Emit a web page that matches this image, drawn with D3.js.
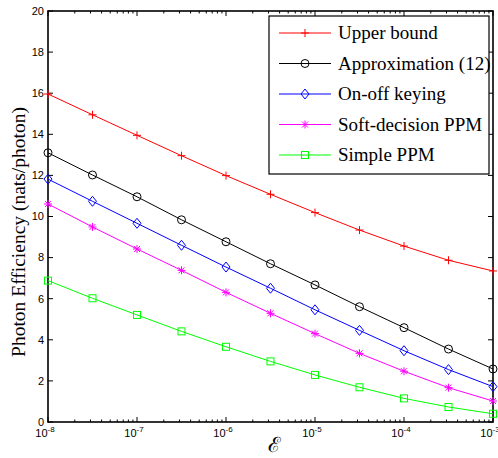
<!DOCTYPE html>
<html><head><meta charset="utf-8">
<script src="https://cdn.jsdelivr.net/npm/d3@7"></script>
<style>body{margin:0;background:#fff}svg{display:block}</style>
</head><body>
<svg id="c" width="498" height="458"></svg>
<script>
const energy = [1e-8, 3.162e-8, 1e-7, 3.162e-7, 1e-6, 3.162e-6, 1e-5, 3.162e-5, 1e-4, 3.162e-4, 1e-3];
const upperBound = [15.96, 14.95, 13.95, 12.96, 11.99, 11.08, 10.19, 9.34, 8.56, 7.87, 7.35];
const approximation = [13.10, 12.02, 10.96, 9.84, 8.77, 7.70, 6.67, 5.61, 4.59, 3.55, 2.58];
const onOffKeying = [11.82, 10.74, 9.67, 8.60, 7.54, 6.51, 5.46, 4.46, 3.47, 2.55, 1.72];
const softPPM = [10.61, 9.49, 8.42, 7.38, 6.31, 5.29, 4.30, 3.34, 2.47, 1.67, 1.02];
const simplePPM = [6.88, 6.02, 5.21, 4.41, 3.66, 2.95, 2.29, 1.69, 1.15, 0.73, 0.40];
const seriesNames = ["Upper bound", "Approximation (12)", "On-off keying", "Soft-decision PPM", "Simple PPM"];
const yTicks = [0, 2, 4, 6, 8, 10, 12, 14, 16, 18, 20];
const xTickExps = [-8, -7, -6, -5, -4, -3];

const series = [
  {name: seriesNames[0], values: upperBound, color: "#ff0000", marker: "plus"},
  {name: seriesNames[1], values: approximation, color: "#000000", marker: "circle"},
  {name: seriesNames[2], values: onOffKeying, color: "#0000ff", marker: "diamond"},
  {name: seriesNames[3], values: softPPM, color: "#ff00ff", marker: "star"},
  {name: seriesNames[4], values: simplePPM, color: "#00ff00", marker: "square"}
];

const svg = d3.select("#c");
const L = 48, R = 493, T = 11, B = 422;
const x = d3.scaleLog().domain([1e-8, 1e-3]).range([L, R]);
const y = d3.scaleLinear().domain([0, 20]).range([B, T]);

// minor & major ticks (inward, on all sides)
const g = svg.append("g").attr("stroke", "#000").attr("stroke-width", 1);
const minor = [];
for (let e = -8; e < -3; e++) for (let k = 2; k <= 9; k++) minor.push(k * Math.pow(10, e));
minor.forEach(v => {
  g.append("line").attr("x1", x(v)).attr("x2", x(v)).attr("y1", B).attr("y2", B - 2.5);
  g.append("line").attr("x1", x(v)).attr("x2", x(v)).attr("y1", T).attr("y2", T + 2.5);
});
xTickExps.forEach(e => {
  const v = Math.pow(10, e);
  g.append("line").attr("x1", x(v)).attr("x2", x(v)).attr("y1", B).attr("y2", B - 5);
  g.append("line").attr("x1", x(v)).attr("x2", x(v)).attr("y1", T).attr("y2", T + 5);
});
yTicks.forEach(v => {
  g.append("line").attr("x1", L).attr("x2", L + 5).attr("y1", y(v)).attr("y2", y(v));
  g.append("line").attr("x1", R).attr("x2", R - 5).attr("y1", y(v)).attr("y2", y(v));
});

// frame
svg.append("rect").attr("x", L).attr("y", T).attr("width", R - L).attr("height", B - T)
  .attr("fill", "none").attr("stroke", "#000").attr("stroke-width", 1.6);

// tick labels
const lbl = svg.append("g").attr("font-family", "Liberation Sans, Arial, sans-serif").attr("font-size", 11).attr("fill", "#000");
yTicks.forEach(v => {
  lbl.append("text").attr("x", L - 4).attr("y", y(v)).attr("dy", "0.35em").attr("text-anchor", "end").text(v);
});
xTickExps.forEach(e => {
  const t = lbl.append("text").attr("x", x(Math.pow(10, e)) - 3).attr("y", 437).attr("text-anchor", "middle");
  t.append("tspan").text("10");
  t.append("tspan").attr("font-size", 8).attr("dy", -5).text("-" + (-e));
});

// axis titles
svg.append("text").attr("transform", "translate(25,232) rotate(-90)").attr("text-anchor", "middle")
  .attr("font-family", "Liberation Serif, Times New Roman, serif").attr("font-size", 19.5).text("Photon Efficiency (nats/photon)");
svg.append("text").attr("x", 274).attr("y", 452).attr("text-anchor", "middle")
  .attr("font-family", "DejaVu Serif, serif").attr("font-size", 21).text("ℰ");

// markers
function drawMarker(sel, type, cx, cy, color) {
  if (type === "plus") {
    sel.append("path").attr("d", `M${cx-4},${cy}H${cx+4}M${cx},${cy-4}V${cy+4}`).attr("stroke", color).attr("fill", "none");
  } else if (type === "circle") {
    sel.append("circle").attr("cx", cx).attr("cy", cy).attr("r", 4).attr("stroke", color).attr("fill", "none");
  } else if (type === "diamond") {
    sel.append("path").attr("d", `M${cx},${cy-5}L${cx+4},${cy}L${cx},${cy+5}L${cx-4},${cy}Z`).attr("stroke", color).attr("fill", "none");
  } else if (type === "star") {
    sel.append("path").attr("d", `M${cx-4},${cy}H${cx+4}M${cx},${cy-4}V${cy+4}M${cx-3},${cy-3}L${cx+3},${cy+3}M${cx-3},${cy+3}L${cx+3},${cy-3}`).attr("stroke", color).attr("fill", "none");
  } else if (type === "square") {
    sel.append("rect").attr("x", cx - 3.5).attr("y", cy - 3.5).attr("width", 7).attr("height", 7).attr("stroke", color).attr("fill", "none");
  }
}

const line = d3.line().x((d, i) => x(energy[i])).y(d => y(d));
series.forEach(s => {
  svg.append("path").attr("d", line(s.values)).attr("fill", "none").attr("stroke", s.color).attr("stroke-width", 1);
  const mg = svg.append("g").attr("stroke-width", 1);
  s.values.forEach((v, i) => drawMarker(mg, s.marker, x(energy[i]), y(v), s.color));
});

// legend
const lg = svg.append("g");
lg.append("rect").attr("x", 269).attr("y", 16).attr("width", 220).attr("height", 158)
  .attr("fill", "#fff").attr("stroke", "#000").attr("stroke-width", 1.2);
series.forEach((s, i) => {
  const ly = 33 + i * 30.5;
  lg.append("line").attr("x1", 279).attr("x2", 331).attr("y1", ly).attr("y2", ly).attr("stroke", s.color).attr("stroke-width", 1);
  drawMarker(lg, s.marker, 305, ly, s.color);
  lg.append("text").attr("x", 338).attr("y", ly).attr("dy", "0.32em")
    .attr("font-family", "Liberation Serif, Times New Roman, serif").attr("font-size", 19).text(s.name);
});
</script>
</body></html>
